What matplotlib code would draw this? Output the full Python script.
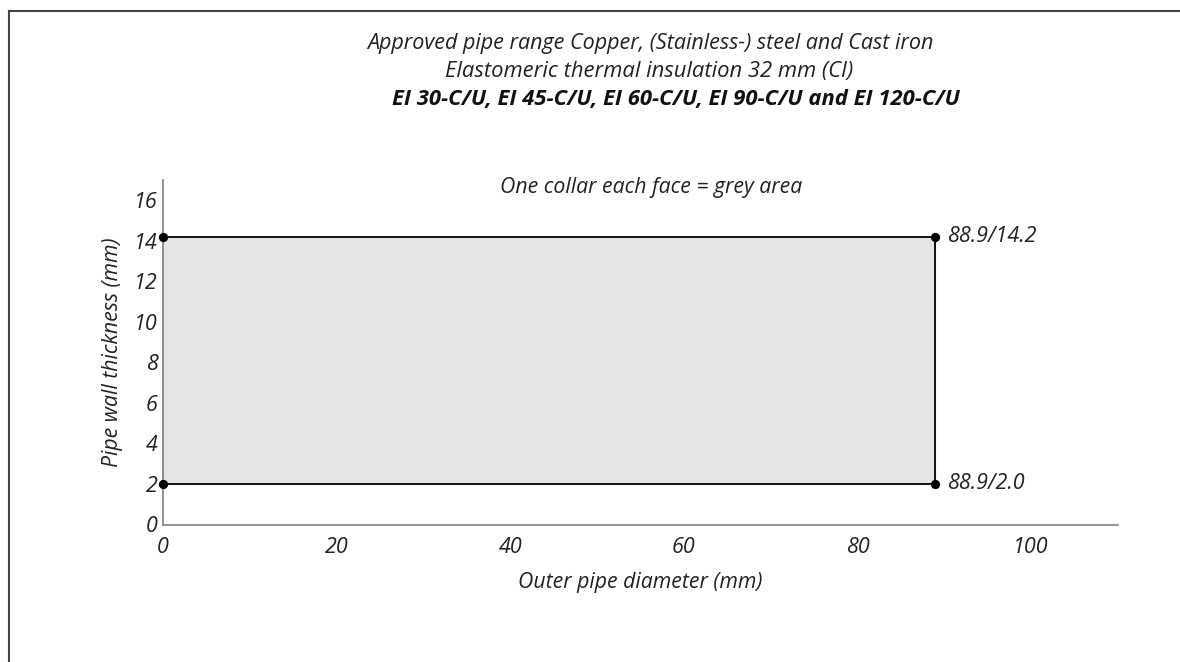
import matplotlib
matplotlib.use("Agg")
import matplotlib.pyplot as plt
from matplotlib.lines import Line2D

plt.rcParams['font.family'] = ['Open Sans', 'DejaVu Sans']

# Data
x_min, x_max = 0.0, 88.9
y_min, y_max = 2.0, 14.2
corner_x = [0.0, 0.0, 88.9, 88.9]
corner_y = [14.2, 2.0, 14.2, 2.0]
point_labels = ["88.9/14.2", "88.9/2.0"]
label_y = [14.2, 2.0]
x_ticks = [0, 20, 40, 60, 80, 100]
y_ticks = [0, 2, 4, 6, 8, 10, 12, 14, 16]
title_lines = ["Approved pipe range Copper, (Stainless-) steel and Cast iron",
               "Elastomeric thermal insulation 32 mm (CI)",
               "EI 30-C/U, EI 45-C/U, EI 60-C/U, EI 90-C/U and EI 120-C/U"]
subtitle = "One collar each face = grey area"

fig = plt.figure(figsize=(11.8, 6.62), dpi=100)
ax = fig.add_axes([163/1180, 1-524.5/662, (1118-163)/1180, (524.5-180)/662])

ax.fill_between([x_min, x_max], y_min, y_max, color='#e5e5e5', zorder=1)
ax.plot([x_min, x_max, x_max, x_min], [y_max, y_max, y_min, y_min], color='black', lw=1.3, zorder=2)
ax.scatter(corner_x, corner_y, s=32, color='black', zorder=3, clip_on=False)
for lab, yy in zip(point_labels, label_y):
    ax.annotate(lab, (x_max, yy), xytext=(9, 0), textcoords='offset points',
                va='center', ha='left', fontsize=15.5, style='italic', color='#222222')

ax.set_xlim(0, 110)
ax.set_ylim(0, 17)
ax.set_xticks(x_ticks)
ax.set_yticks(y_ticks)
ax.tick_params(length=0, labelsize=15.5, colors='#222222')
ax.tick_params(axis='y', pad=4)
ax.tick_params(axis='x', pad=9)
for lab in ax.get_xticklabels() + ax.get_yticklabels():
    lab.set_fontstyle('italic')
for s in ['top', 'right']:
    ax.spines[s].set_visible(False)
for s in ['left', 'bottom']:
    ax.spines[s].set_color('#808080')
    ax.spines[s].set_linewidth(1.2)

ax.set_xlabel("Outer pipe diameter (mm)", fontsize=15.3, style='italic', labelpad=10, color='#222222')
ax.set_ylabel("Pipe wall thickness (mm)", fontsize=15.3, style='italic', labelpad=8, color='#222222')

fig.text(650/1180, 1-43/662, title_lines[0], ha='center', va='center', fontsize=15.5, style='italic', color='#222222')
fig.text(649/1180, 1-71/662, title_lines[1], ha='center', va='center', fontsize=15.8, style='italic', color='#222222')
fig.text(676/1180, 1-99/662, title_lines[2], ha='center', va='center', fontsize=15.8, style='italic', weight='bold', color='#111111')
fig.text(651/1180, 1-187/662, subtitle, ha='center', va='center', fontsize=15.3, style='italic', color='#222222')

# outer frame
fig.add_artist(Line2D([9/1180, 1], [1-11/662, 1-11/662], color='#444444', lw=1.5, transform=fig.transFigure))
fig.add_artist(Line2D([9/1180, 9/1180], [0, 1-11/662], color='#444444', lw=1.5, transform=fig.transFigure))

fig.savefig("out.png", dpi=100)
